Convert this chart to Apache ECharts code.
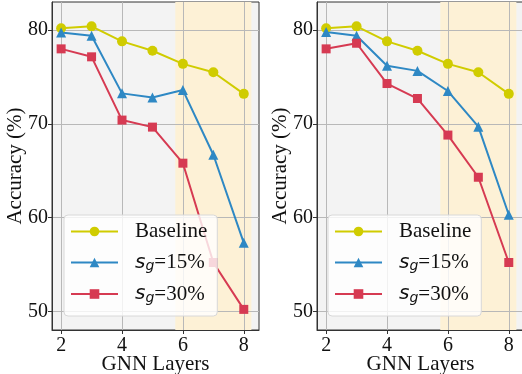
<!DOCTYPE html>
<html>
<head>
<meta charset="utf-8">
<script src="https://cdn.jsdelivr.net/npm/echarts@6/dist/echarts.min.js"></script>
<style>
  html, body { margin: 0; padding: 0; background: #fff; }
  #chart { width: 522px; height: 374px; }
</style>
</head>
<body>
<div id="chart"></div>
<script>
// data
var layers = [2, 3, 4, 5, 6, 7, 8];
var xTicks = [2, 4, 6, 8];
var yTicks = [50, 60, 70, 80];
var seriesNames = ['Baseline', 'sg=15%', 'sg=30%'];
var baseline = [80.2, 80.4, 78.8, 77.8, 76.4, 75.5, 73.2];
var leftSg15 = [79.75, 79.4, 73.25, 72.8, 73.6, 66.7, 57.3];
var leftSg30 = [78.0, 77.15, 70.4, 69.65, 65.8, 55.2, 50.2];
var rightSg15 = [79.8, 79.4, 76.2, 75.65, 73.5, 69.7, 60.3];
var rightSg30 = [78.0, 78.6, 74.3, 72.7, 68.8, 64.3, 55.2];
var highlight = [5.75, 8.25];

var colors = ['#d0cc00', '#2e88c4', '#d63a52'];
var symbols = ['circle', 'triangle', 'rect'];
var sizes = [10, 10, 9];
var serif = 'Liberation Serif';

function pairs(ys) {
    return layers.map(function (x, i) { return [x, ys[i]]; });
}

var chart = echarts.init(document.getElementById('chart'));

function xAxisOf(idx) {
    return {
        type: 'value',
        gridIndex: idx,
        min: 1.7,
        max: 8.5,
        z: 2,
        name: 'GNN Layers',
        nameLocation: 'middle',
        nameGap: 24,
        nameMoveOverlap: false,
        nameTextStyle: { fontFamily: serif, fontSize: 21, color: '#111' },
        axisLine: { show: true, onZero: false, lineStyle: { color: '#333', width: 1 } },
        axisTick: { show: true, length: 4, customValues: xTicks, lineStyle: { color: '#333' } },
        axisLabel: { customValues: xTicks, margin: 6, fontFamily: serif, fontSize: 20, color: '#111' },
        splitLine: { show: true, lineStyle: { color: '#b8b8b8', width: 1 } }
    };
}

function yAxisOf(idx) {
    return {
        type: 'value',
        gridIndex: idx,
        min: 48,
        max: 83,
        z: 2,
        name: 'Accuracy (%)',
        nameLocation: 'middle',
        nameGap: 26,
        nameMoveOverlap: false,
        nameTextStyle: { fontFamily: serif, fontSize: 21, color: '#111' },
        axisLine: { show: true, onZero: false, lineStyle: { color: '#333', width: 1 } },
        axisTick: { show: true, length: 4, customValues: yTicks, lineStyle: { color: '#333' } },
        axisLabel: { customValues: yTicks, margin: 4, fontFamily: serif, fontSize: 20, color: '#111' },
        splitLine: { show: true, lineStyle: { color: '#b8b8b8', width: 1 } }
    };
}

function legendOf(left) {
    return {
        left: left,
        top: 215,
        orient: 'vertical',
        data: seriesNames,
        itemWidth: 47,
        itemHeight: 12,
        itemGap: 10,
        padding: [6, 10, 11, 6],
        backgroundColor: 'rgba(255,255,255,0.8)',
        borderColor: '#d8d8d8',
        borderWidth: 1,
        borderRadius: 4,
        z: 5,
        formatter: function (name) {
            if (name === 'Baseline') return '{t|Baseline}';
            return '{s|s}{g|g}{t|' + name.slice(2) + '}';
        },
        textStyle: {
            padding: [0, 0, 0, 12],
            rich: {
                t: { fontFamily: serif, fontSize: 21, lineHeight: 22, color: '#111' },
                s: { fontFamily: 'DejaVu Sans', fontStyle: 'italic', fontSize: 20, lineHeight: 22, color: '#111' },
                g: { fontFamily: 'DejaVu Sans', fontStyle: 'italic', fontSize: 14, lineHeight: 14, verticalAlign: 'bottom', color: '#111' }
            }
        }
    };
}

var series = [];
[[baseline, leftSg15, leftSg30], [baseline, rightSg15, rightSg30]].forEach(function (group, g) {
    // shaded range of layers
    series.push({
        type: 'line',
        xAxisIndex: g,
        yAxisIndex: g,
        data: [],
        z: 1,
        silent: true,
        markArea: {
            silent: true,
            itemStyle: { color: '#fdf1d6' },
            data: [[{ xAxis: highlight[0] }, { xAxis: highlight[1] }]]
        }
    });
    group.forEach(function (ys, i) {
        series.push({
            name: seriesNames[i],
            type: 'line',
            xAxisIndex: g,
            yAxisIndex: g,
            data: pairs(ys),
            z: 3,
            symbol: symbols[i],
            symbolSize: sizes[i],
            color: colors[i],
            lineStyle: { width: 2, color: colors[i] },
            itemStyle: { color: colors[i] },
            animation: false
        });
    });
});

var option = {
    animation: false,
    textStyle: { fontFamily: serif },
    grid: [
        { left: 52, top: 2, width: 207, height: 328, outerBoundsMode: 'none', containLabel: false, show: true, backgroundColor: '#f3f3f3', borderColor: '#333', borderWidth: 1, z: 0 },
        { left: 317, top: 2, width: 207, height: 328, outerBoundsMode: 'none', containLabel: false, show: true, backgroundColor: '#f3f3f3', borderColor: '#333', borderWidth: 1, z: 0 }
    ],
    xAxis: [xAxisOf(0), xAxisOf(1)],
    yAxis: [yAxisOf(0), yAxisOf(1)],
    legend: [legendOf(64), legendOf(328)],
    series: series
};
chart.setOption(option);
window.addEventListener('resize', function () { chart.resize(); });
</script>
</body>
</html>
